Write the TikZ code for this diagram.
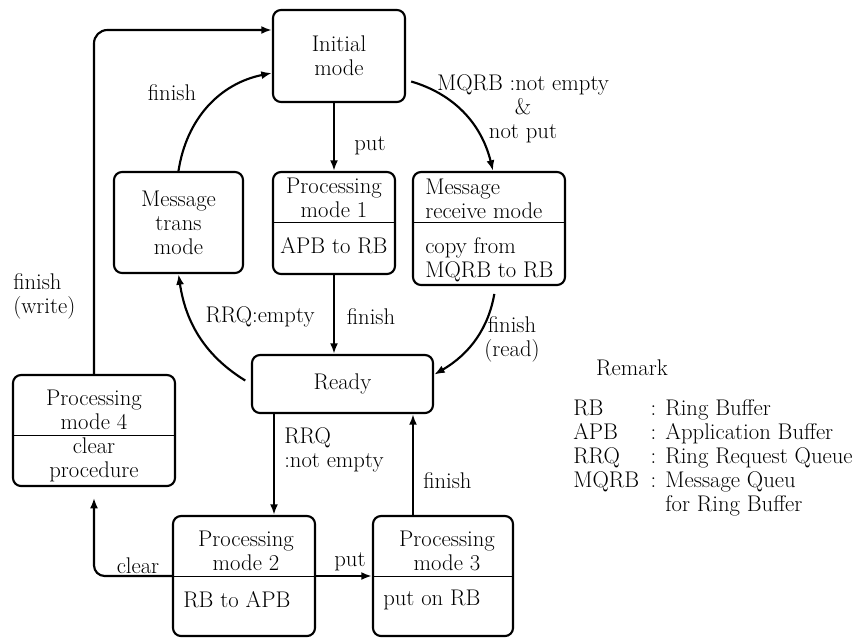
\documentclass[tikz,border=0pt]{standalone}
\usepackage{tikz}
\usetikzlibrary{arrows.meta, positioning, calc}

\begin{document}
\begin{tikzpicture}[x=0.75pt, y=-0.75pt,
    font=\fontsize{17}{18}\selectfont,
    modebox/.style={draw, line width=1.6pt, rounded corners=6pt, inner sep=0pt, align=center},
    txt/.style={inner sep=0pt, align=center},
    ltxt/.style={inner sep=0pt, align=left, anchor=west},
    arr/.style={line width=1.6pt, -{Latex[length=8pt,width=6pt]}},
    divline/.style={line width=0.6pt}]
    \useasboundingbox (0,0) rectangle (866,637);

    % Mode boxes
    \node[modebox, minimum width=99pt, minimum height=69pt] (init) at (339,56) {Initial\\mode};
    \node[modebox, minimum width=96.75pt, minimum height=75.75pt] (mtrans) at (178.5,222.5) {Message\\trans\\mode};
    \node[modebox, minimum width=91.5pt, minimum height=76.5pt] (pm1) at (334,223) {};
    \node[modebox, minimum width=114pt, minimum height=84.75pt] (mrecv) at (489,228.5) {};
    \node[modebox, minimum width=135.75pt, minimum height=43.5pt] (ready) at (342.5,384) {Ready};
    \node[modebox, minimum width=121.5pt, minimum height=83.25pt] (pm4) at (94,430.5) {};
    \node[modebox, minimum width=106.5pt, minimum height=90pt] (pm2) at (244,576) {};
    \node[modebox, minimum width=105pt, minimum height=90pt] (pm3) at (443,576) {};

    % Box contents
    \node[txt] (pm1a) at (334,198) {Processing\\mode 1};
    \node[txt] (pm1b) at (334,246) {APB to RB};
    \draw[divline] (pm1.west |- 0,222) -- (pm1.east |- 0,222);

    \node[ltxt] (mrecva) at (425,198.5) {Message\\receive mode};
    \node[ltxt] (mrecvb) at (425,260) {copy from\\MQRB to RB};
    \draw[divline] (mrecv.west |- 0,222) -- (mrecv.east |- 0,222);

    \node[txt] (pm4a) at (94,410) {Processing\\mode 4};
    \node[txt] (pm4b) at (94,460) {clear\\procedure};
    \draw[divline] (pm4.west |- 0,435) -- (pm4.east |- 0,435);

    \node[txt] (pm2a) at (246,550.5) {Processing\\mode 2};
    \node[ltxt] (pm2b) at (183,600) {RB to APB};
    \draw[divline] (pm2.west |- 0,576) -- (pm2.east |- 0,576);

    \node[txt] (pm3a) at (447,550.5) {Processing\\mode 3};
    \node[ltxt] (pm3b) at (383,600) {put on RB};
    \draw[divline] (pm3.west |- 0,576) -- (pm3.east |- 0,576);

    % Transitions
    \draw[arr] (init.south -| pm1.north) -- (pm1.north);
    \draw[arr] (pm1.south) -- (pm1.south |- ready.north);
    \coordinate (rrq) at ([xshift=22.5pt]pm2.north);
    \draw[arr] (rrq |- ready.south) -- (rrq);
    \coordinate (fin3) at ([xshift=-22.5pt]pm3.north);
    \draw[arr] (fin3) -- (fin3 |- ready.south);
    \draw[arr] (pm2.east) -- (pm3.west);
    \draw[arr, rounded corners=8pt] (pm2.west) -| ([yshift=-8pt]pm4.south);
    \draw[arr, rounded corners=10pt] (pm4.north) |- ([yshift=19.5pt]init.west);
    \draw[arr] (mtrans.north) to[bend left=35] ([yshift=-12.75pt]init.west);
    \draw[arr, shorten <=4pt] ([yshift=-18pt]init.east) to[bend left=30] ([xshift=3pt]mrecv.north);
    \draw[arr, shorten <=5pt] (ready.west) to[bend left=25] (mtrans.south);
    \draw[arr, shorten <=6pt] ([xshift=5pt]mrecv.south) to[bend left=25] ([yshift=7pt]ready.east);

    % Labels
    \node[txt] (lfin1) at (172,93) {finish};
    \node[txt] (lput1) at (370,146) {put};
    \node[txt] (lmqrb) at (523,109) {MQRB :not empty\\\&\\not put};
    \node[txt] (lfin2) at (371,317) {finish};
    \node[txt] (lrrqe) at (260,317) {RRQ:empty};
    \node[txt] (lread) at (512,339) {finish\\(read)};
    \node[ltxt] (lwrite) at (13,296) {finish\\(write)};
    \node[ltxt] (lrrqn) at (284,450) {RRQ\\:not empty};
    \node[ltxt] (lfin3) at (423,481) {finish};
    \node[txt] (lclear) at (138,566) {clear};
    \node[txt] (lput2) at (350,562) {put};

    % Remark
    \node[txt] (remark) at (632,368) {Remark};
    \node[inner sep=0pt, anchor=north west] (legend) at (573,398) {%
        \begin{tabular}{@{}p{58pt}@{}l@{}}
        RB   & : Ring Buffer\\
        APB  & : Application Buffer\\
        RRQ  & : Ring Request Queue\\
        MQRB & : Message Queu\\
             & \phantom{: }for Ring Buffer
        \end{tabular}};
\end{tikzpicture}
\end{document}
